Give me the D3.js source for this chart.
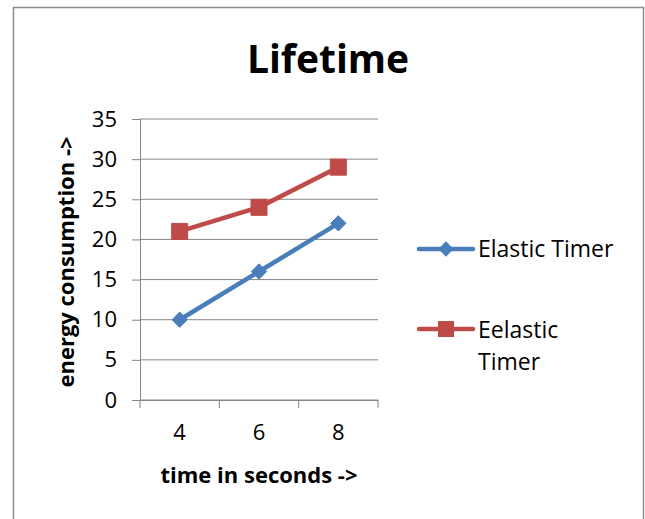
<!DOCTYPE html>
<html><head><meta charset="utf-8">
<script src="https://cdn.jsdelivr.net/npm/d3@7"></script>
<style>body{margin:0;background:#fff}svg{display:block}text{font-family:"Open Sans",Lato,sans-serif}</style>
</head><body>
<script>
const categories = ["4","6","8"];
const seriesNames = ["Elastic Timer","Eelastic Timer"];
const elastic = [10,16,22];
const eelastic = [21,24,29];
const yTicks = [0,5,10,15,20,25,30,35];
const colors = ["#4A7EBB","#BE4B48"];

(function(){
const W=645,H=519;
const F="Open Sans";
const svg=d3.select("body").append("svg").attr("width",W).attr("height",H);
svg.append("rect").attr("x",13.5).attr("y",7.5).attr("width",630).attr("height",520)
  .attr("fill","#fff").attr("stroke","#8c8c8c").attr("stroke-width",1.5);

const pl=140,pr=378,pt=119,pb=400;
const x=d3.scaleBand().domain(categories).range([pl,pr]);
const y=d3.scaleLinear().domain([0,35]).range([pb,pt]);

svg.append("g").selectAll("line").data(yTicks).join("line")
  .attr("x1",pl).attr("x2",pr).attr("y1",d=>y(d)).attr("y2",d=>y(d))
  .attr("stroke","#868686").attr("stroke-width",1);

const yAxis=svg.append("g").attr("transform",`translate(${pl},0)`)
  .call(d3.axisLeft(y).tickValues(yTicks).tickSize(8).tickPadding(15));
yAxis.select(".domain").attr("stroke","#868686");
yAxis.selectAll(".tick line").attr("stroke","#868686");
yAxis.selectAll("text").attr("font-size",22).attr("fill","#000").attr("font-family",F);

const xAxis=svg.append("g").attr("transform",`translate(0,${pb})`)
  .call(d3.axisBottom(x).tickSizeOuter(0).tickSize(0).tickPadding(24));
xAxis.select(".domain").attr("stroke","#868686");
xAxis.selectAll("text").attr("font-size",22).attr("fill","#000").attr("font-family",F);
const bounds=[pl].concat(categories.map(c=>x(c)+x.bandwidth()));
svg.append("g").selectAll("line").data(bounds).join("line")
  .attr("x1",d=>d).attr("x2",d=>d).attr("y1",pb).attr("y2",pb+8)
  .attr("stroke","#868686");

const data=[elastic,eelastic];
const line=d3.line().x((d,i)=>x(categories[i])+x.bandwidth()/2).y(d=>y(d));
const sq="M-8,-8H8V8H-8Z";
data.forEach((s,k)=>{
  svg.append("path").datum(s).attr("d",line).attr("fill","none")
    .attr("stroke",colors[k]).attr("stroke-width",4.5).attr("stroke-linecap","round");
  svg.append("g").selectAll("path").data(s).join("path")
    .attr("transform",(d,i)=>`translate(${x(categories[i])+x.bandwidth()/2},${y(d)})`)
    .attr("d",k===0?d3.symbol(d3.symbolDiamond2,150)():sq)
    .attr("fill",colors[k]).attr("stroke",colors[k]).attr("stroke-width",1);
});

svg.append("text").attr("x",328).attr("y",73).attr("text-anchor","middle")
  .attr("font-size",39).attr("font-weight","bold").text("Lifetime");
svg.append("text").attr("transform","translate(74,262) rotate(-90)").attr("text-anchor","middle")
  .attr("font-size",22).attr("font-weight","bold").text("energy  consumption ->");
svg.append("text").attr("x",259).attr("y",483).attr("text-anchor","middle")
  .attr("font-size",22).attr("font-weight","bold").text("time in seconds ->");

const legY=[249,329];
seriesNames.forEach((n,k)=>{
  svg.append("line").attr("x1",419).attr("x2",473).attr("y1",legY[k]).attr("y2",legY[k])
    .attr("stroke",colors[k]).attr("stroke-width",4.5).attr("stroke-linecap","round");
  svg.append("path").attr("transform",`translate(446,${legY[k]})`)
    .attr("d",k===0?d3.symbol(d3.symbolDiamond2,150)():sq).attr("fill",colors[k]);
});
svg.append("text").attr("x",478).attr("y",257).attr("font-size",23).text(seriesNames[0]);
const t2=svg.append("text").attr("x",478).attr("y",338).attr("font-size",23);
t2.append("tspan").attr("x",478).text("Eelastic");
t2.append("tspan").attr("x",478).attr("dy",32).text("Timer");
})();
</script>
</body></html>
